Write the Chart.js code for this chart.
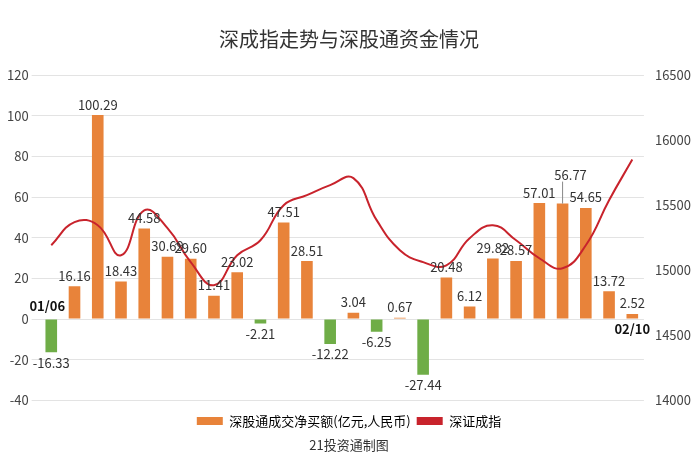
<!DOCTYPE html>
<html lang="en">
<head>
<meta charset="utf-8">
<script src="https://cdn.jsdelivr.net/npm/chart.js"></script>
<style>
  body { margin: 0; background: #fff; }
</style>
</head>
<body>
<canvas id="chart" width="700" height="467"></canvas>
<script>
const categories = ['01/06','','','','','','','','','','','','','','','','','','','','','','','','','02/10'];
const netBuy = [-16.33, 16.16, 100.29, 18.43, 44.58, 30.69, 29.60, 11.41, 23.02, -2.21, 47.51, 28.51, -12.22,
  3.04, -6.25, 0.67, -27.44, 20.48, 6.12, 29.82, 28.57, 57.01, 56.77, 54.65, 13.72, 2.52];
const szIndex = [15192, 15370, 15346, 15115, 15460, 15323, 15062, 14885, 15115, 15230, 15500, 15577, 15654,
  15708, 15385, 15154, 15062, 15038, 15246, 15346, 15230, 15092, 15015, 15192, 15538, 15850];
const leftTicks = [-40, -20, 0, 20, 40, 60, 80, 100, 120];
const rightTicks = [14000, 14500, 15000, 15500, 16000, 16500];

const font = '"Noto Sans CJK SC", "Noto Sans", sans-serif';

const labelPlugin = {
  id: 'labels',
  afterDatasetsDraw(chart) {
    const ctx = chart.ctx;
    const meta = chart.getDatasetMeta(1);
    ctx.save();
    ctx.font = '13px ' + font;
    ctx.fillStyle = '#333';
    ctx.textAlign = 'center';
    meta.data.forEach((bar, i) => {
      const v = netBuy[i];
      if (i === 22) {
        // raised label with leader line
        ctx.strokeStyle = '#888'; ctx.lineWidth = 1;
        ctx.beginPath(); ctx.moveTo(bar.x, bar.y); ctx.lineTo(bar.x, bar.y - 22); ctx.stroke();
        ctx.textBaseline = 'bottom'; ctx.fillText(v.toFixed(2), bar.x + 8, bar.y - 22);
      } else if (v >= 0) { ctx.textBaseline = 'bottom'; ctx.fillText(v.toFixed(2), bar.x, bar.y - 4); }
      else { ctx.textBaseline = 'top'; ctx.fillText(v.toFixed(2), bar.x, bar.y + 4); }
    });
    ctx.font = 'bold 13px ' + font;
    ctx.fillStyle = '#111';
    const y0 = chart.scales.y.getPixelForValue(0);
    ctx.textBaseline = 'bottom';
    ctx.fillText(categories[0], meta.data[0].x - 4, y0 - 6);
    ctx.textBaseline = 'top';
    ctx.fillText(categories[25], meta.data[25].x, y0 + 4);
    ctx.restore();
  }
};

new Chart(document.getElementById('chart'), {
  data: {
    labels: categories,
    datasets: [
      {
        type: 'line', label: '深证成指', data: szIndex, yAxisID: 'y1',
        borderColor: '#c8232c', borderWidth: 2, pointRadius: 0, tension: 0.45, order: 0
      },
      {
        type: 'bar', label: '深股通成交净买额(亿元,人民币)', data: netBuy, yAxisID: 'y',
        backgroundColor: netBuy.map(v => v >= 0 ? '#e8833a' : '#6fad47'),
        barPercentage: 0.5, categoryPercentage: 1, order: 1
      }
    ]
  },
  options: {
    responsive: false,
    animation: false,
    layout: { padding: { left: 4, right: 6, top: 0, bottom: 0 } },
    plugins: {
      title: { display: true, text: '深成指走势与深股通资金情况', color: '#333',
        font: { family: font, size: 20, weight: 'normal' }, padding: { top: 27, bottom: 24 } },
      subtitle: { display: true, position: 'bottom', text: '21投资通制图', color: '#333',
        font: { family: font, size: 13 }, padding: { top: 0, bottom: 14 } },
      legend: {
        position: 'bottom',
        labels: {
          color: '#333', font: { family: font, size: 13 }, boxWidth: 26, boxHeight: 8, padding: 6,
          generateLabels(chart) {
            return [
              { text: '深股通成交净买额(亿元,人民币)', fillStyle: '#e8833a', strokeStyle: '#e8833a', lineWidth: 0, datasetIndex: 1 },
              { text: '深证成指', fillStyle: '#c8232c', strokeStyle: '#c8232c', lineWidth: 0, datasetIndex: 0 }
            ];
          }
        }
      },
      tooltip: { enabled: false }
    },
    scales: {
      x: { grid: { display: false }, border: { display: false }, ticks: { display: false } },
      y: {
        position: 'left', min: -40, max: 120,
        afterBuildTicks(s) { s.ticks = leftTicks.map(v => ({ value: v })); },
        grid: { color: '#e3e3e3' }, border: { display: false },
        ticks: { color: '#444', font: { family: font, size: 13 } }
      },
      y1: {
        position: 'right', min: 14000, max: 16500,
        afterBuildTicks(s) { s.ticks = rightTicks.map(v => ({ value: v })); },
        grid: { display: false }, border: { display: false },
        ticks: { color: '#444', font: { family: font, size: 13 }, callback: v => String(v) }
      }
    }
  },
  plugins: [labelPlugin]
});
</script>
</body>
</html>
